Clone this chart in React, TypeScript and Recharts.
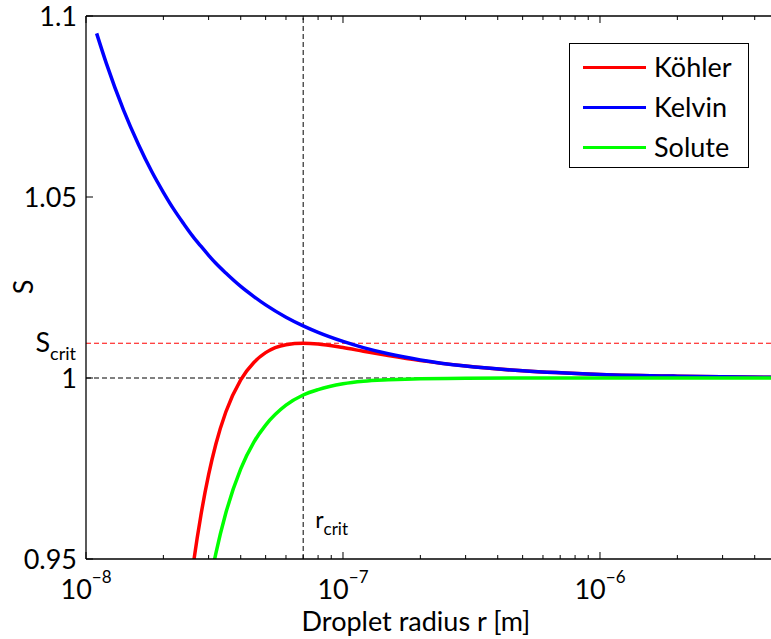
import {
  LineChart,
  Line,
  XAxis,
  YAxis,
  ReferenceLine,
} from 'recharts';

// Droplet radius r [m]
const radius = [
  1.1e-8, 1.2e-8, 1.4e-8, 1.6e-8, 1.8e-8, 2.0e-8, 2.2e-8, 2.4e-8, 2.6e-8, 2.8e-8,
  3.0e-8, 3.2e-8, 3.5e-8, 4.0e-8, 4.5e-8, 5.0e-8, 6.0e-8, 7.0e-8, 8.0e-8, 1.0e-7,
  1.2e-7, 1.5e-7, 2.0e-7, 3.0e-7, 5.0e-7, 1.0e-6, 2.0e-6, 4.67e-6,
];

// Saturation ratio S for each radius
const kelvin = [
  1.0952, 1.0869, 1.074, 1.0645, 1.0571, 1.0513, 1.0465, 1.0426, 1.0392, 1.0364,
  1.0339, 1.0317, 1.029, 1.0253, 1.0225, 1.0202, 1.0168, 1.0144, 1.0126, 1.0101,
  1.0084, 1.0067, 1.005, 1.0033, 1.002, 1.001, 1.0005, 1.0002,
];

const kohler = [
  null, null, null, null, null, null, null, 0.9266, 0.9472, 0.9621,
  0.9733, 0.9817, 0.9906, 0.9995, 1.0043, 1.007, 1.0092, 1.0096, 1.0094, 1.0084,
  1.0074, 1.0062, 1.0048, 1.0033, 1.002, 1.001, 1.0005, 1.0002,
];

const solute = [
  null, null, null, null, null, null, null, null, null, 0.9284,
  0.9414, 0.9515, 0.9627, 0.9749, 0.9823, 0.987, 0.9925, 0.9953, 0.9968, 0.9984,
  0.9991, 0.9995, 0.9998, 0.9999, 1.0, 1.0, 1.0, 1.0,
];

const rCrit = 7.0e-8;
const sCrit = 1.0096;

const xTicks = [
  1e-8, 2e-8, 3e-8, 4e-8, 5e-8, 6e-8, 7e-8, 8e-8, 9e-8,
  1e-7, 2e-7, 3e-7, 4e-7, 5e-7, 6e-7, 7e-7, 8e-7, 9e-7,
  1e-6, 2e-6, 3e-6, 4e-6,
];
const yTicks = [0.95, 1, 1.05, 1.1];
const yTickLabels = ['0.95', '1', '1.05', '1.1'];

const series = [
  { key: 'kohler', name: 'Köhler', color: '#ff0000' },
  { key: 'kelvin', name: 'Kelvin', color: '#0000ff' },
  { key: 'solute', name: 'Solute', color: '#00ff00' },
];

const data = radius.map((r, i) => ({
  r,
  kohler: kohler[i],
  kelvin: kelvin[i],
  solute: solute[i],
}));

const FONT = 'Lato, "Open Sans", sans-serif';
const FS = 27;

const isDecade = (v: number) => {
  const l = Math.log10(v);
  return Math.abs(l - Math.round(l)) < 1e-6;
};

const BottomTick = ({ x, y, payload }: any) => {
  const major = isDecade(payload.value);
  const exp = Math.round(Math.log10(payload.value));
  return (
    <g>
      <line x1={x} x2={x} y1={y} y2={y - (major ? 7 : 4)} stroke="#000" strokeWidth={1} />
      {major && (
        <text x={x} y={y + 40} textAnchor="middle" fontSize={FS} fill="#000">
          <tspan>10</tspan>
          <tspan fontSize={17} dy={-16}>{`−${Math.abs(exp)}`}</tspan>
        </text>
      )}
    </g>
  );
};

const TopTick = ({ x, y, payload }: any) => {
  const major = isDecade(payload.value);
  return <line x1={x} x2={x} y1={y} y2={y + (major ? 7 : 4)} stroke="#000" strokeWidth={1} />;
};

const LeftTick = ({ x, y, payload, index }: any) => (
  <g>
    <line x1={x} x2={x + 7} y1={y} y2={y} stroke="#000" strokeWidth={1} />
    <text x={x - 9} y={y + 10} textAnchor="end" fontSize={FS} fill="#000">
      {yTickLabels[index] ?? String(payload.value)}
    </text>
  </g>
);

const SCritLabel = ({ viewBox }: any) => (
  <text x={viewBox.x - 10} y={viewBox.y + 9} textAnchor="end" fontSize={FS} fill="#000">
    <tspan>S</tspan>
    <tspan fontSize={18} dy={8}>crit</tspan>
  </text>
);

const RCritLabel = ({ viewBox }: any) => (
  <text x={viewBox.x + 12} y={viewBox.y + viewBox.height - 31} fontSize={23} fill="#000">
    <tspan>r</tspan>
    <tspan fontSize={17} dy={7}>crit</tspan>
  </text>
);

const XLabel = () => (
  <text x={416} y={631} textAnchor="middle" fontSize={FS} fill="#000">
    Droplet radius r [m]
  </text>
);

const YLabel = () => (
  <text transform="translate(33, 287) rotate(-90)" textAnchor="middle" fontSize={FS} fill="#000">
    S
  </text>
);

const LegendBox = () => (
  <div
    style={{
      position: 'absolute',
      left: 569,
      top: 43,
      width: 178,
      height: 123,
      border: '1.3px solid #000',
      background: '#fff',
      fontFamily: FONT,
      fontSize: FS,
    }}
  >
    {series.map((s, i) => (
      <div
        key={s.key}
        style={{ position: 'absolute', left: 0, top: 5 + i * 40, height: 36, display: 'flex', alignItems: 'center' }}
      >
        <div style={{ marginLeft: 13, width: 63, height: 3, background: s.color }} />
        <span style={{ marginLeft: 8, lineHeight: '36px' }}>{s.name}</span>
      </div>
    ))}
  </div>
);

export default function App() {
  return (
    <div
      style={{
        position: 'absolute',
        left: 0,
        top: 0,
        width: 771,
        height: 639,
        overflow: 'hidden',
        background: '#fff',
        fontFamily: FONT,
      }}
    >
      <LineChart
        width={800}
        height={639}
        data={data}
        margin={{ top: 0, right: 28, bottom: 0, left: 0 }}
        style={{ fontFamily: FONT }}
      >
        <XAxis
          dataKey="r"
          type="number"
          scale="log"
          domain={[1e-8, 4.67e-6]}
          allowDataOverflow
          ticks={xTicks}
          interval={0}
          height={80}
          tick={<BottomTick />}
          tickLine={false}
          tickSize={0}
          tickMargin={0}
          axisLine={{ stroke: '#000', strokeWidth: 1.3 }}
          label={<XLabel />}
        />
        <XAxis
          xAxisId="top"
          orientation="top"
          dataKey="r"
          type="number"
          scale="log"
          domain={[1e-8, 4.67e-6]}
          allowDataOverflow
          ticks={xTicks}
          interval={0}
          height={16}
          tick={<TopTick />}
          tickLine={false}
          tickSize={0}
          tickMargin={0}
          axisLine={{ stroke: '#000', strokeWidth: 1.3 }}
        />
        <YAxis
          type="number"
          domain={[0.95, 1.1]}
          allowDataOverflow
          ticks={yTicks}
          interval={0}
          width={86}
          tick={<LeftTick />}
          tickLine={false}
          tickSize={0}
          tickMargin={0}
          axisLine={{ stroke: '#000', strokeWidth: 1.3 }}
          label={<YLabel />}
        />

        <ReferenceLine y={1} stroke="#000" strokeWidth={1} strokeDasharray="5 3" />
        <ReferenceLine
          y={sCrit}
          stroke="#ff0000"
          strokeWidth={1}
          strokeDasharray="5 3"
          label={<SCritLabel />}
        />
        <ReferenceLine
          x={rCrit}
          stroke="#000"
          strokeWidth={1}
          strokeDasharray="5 3"
          label={<RCritLabel />}
        />

        {series.map((s) => (
          <Line
            key={s.key}
            type="monotone"
            dataKey={s.key}
            name={s.name}
            stroke={s.color}
            strokeWidth={3.5}
            dot={false}
            activeDot={false}
            isAnimationActive={false}
          />
        ))}
      </LineChart>
      <LegendBox />
    </div>
  );
}
